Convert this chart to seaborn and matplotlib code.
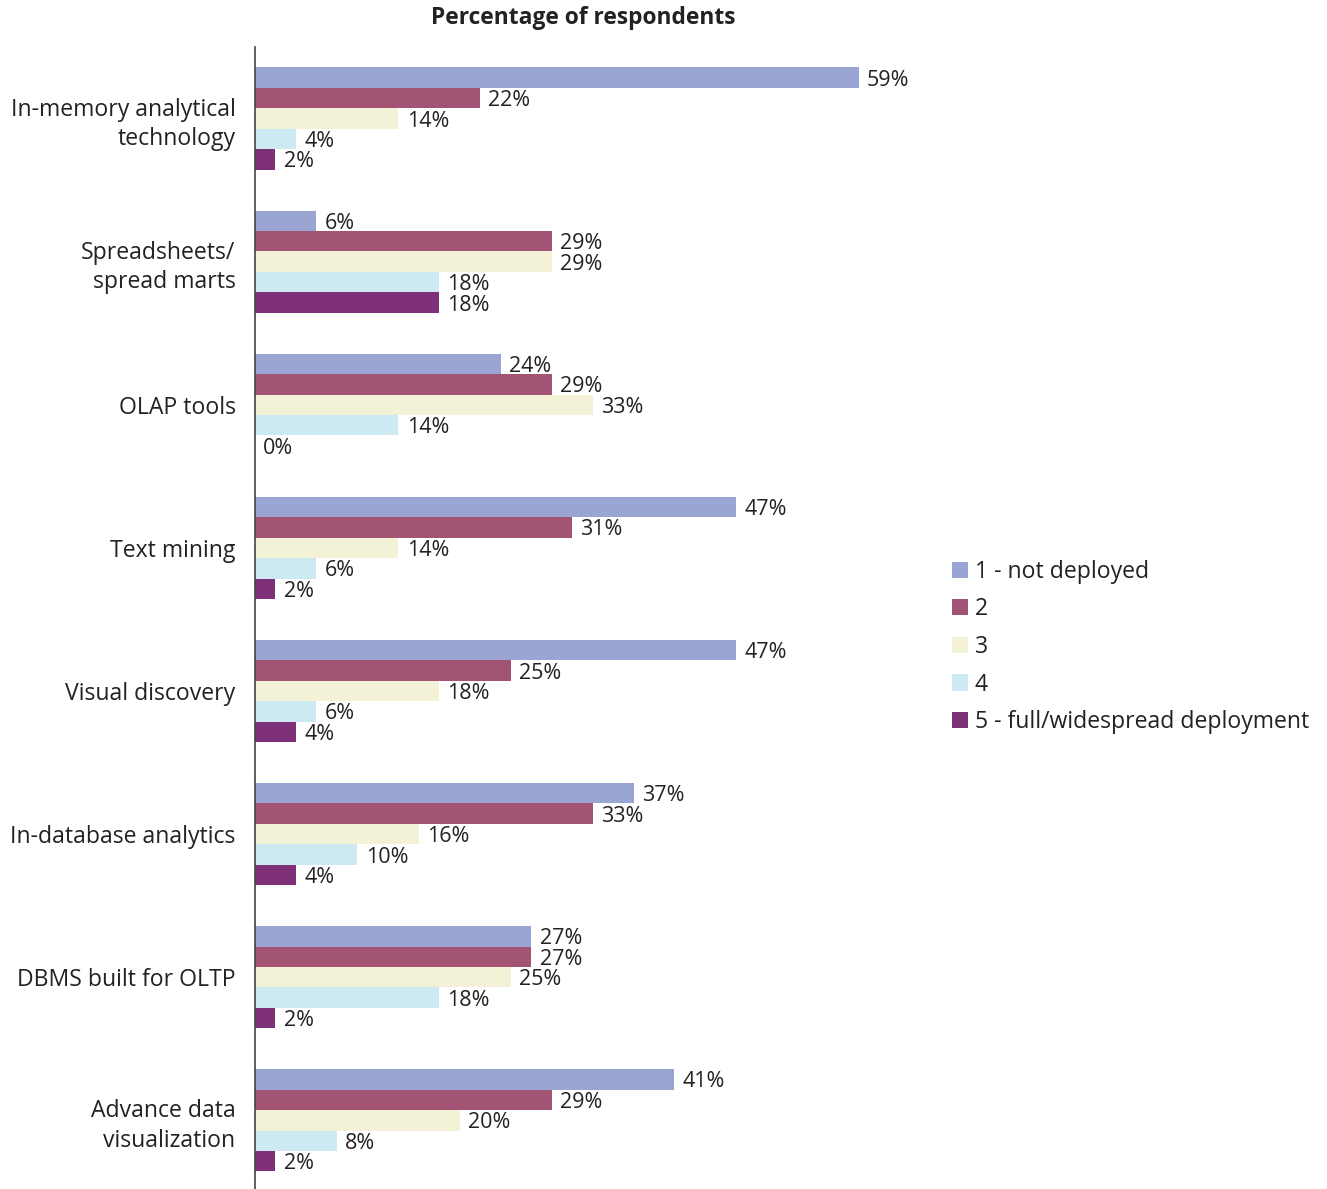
import matplotlib
matplotlib.use("Agg")
import matplotlib.pyplot as plt
import seaborn as sns
import pandas as pd

categories = [
    "In-memory analytical\ntechnology",
    "Spreadsheets/\nspread marts",
    "OLAP tools",
    "Text mining",
    "Visual discovery",
    "In-database analytics",
    "DBMS built for OLTP",
    "Advance data\nvisualization",
]
levels = ["1 - not deployed", "2", "3", "4", "5 - full/widespread deployment"]
level1 = [59, 6, 24, 47, 47, 37, 27, 41]
level2 = [22, 29, 29, 31, 25, 33, 27, 29]
level3 = [14, 29, 33, 14, 18, 16, 25, 20]
level4 = [4, 18, 14, 6, 6, 10, 18, 8]
level5 = [2, 18, 0, 2, 4, 4, 2, 2]
colors = ["#9ba5d4", "#a35475", "#f3f2d6", "#cdeaf2", "#7e3078"]

rows = []
for lvl, vals in zip(levels, [level1, level2, level3, level4, level5]):
    for cat, v in zip(categories, vals):
        rows.append({"category": cat, "level": lvl, "pct": v})
df = pd.DataFrame(rows)

sns.set_theme(style="white")
plt.rcParams["font.family"] = ["Open Sans", "DejaVu Sans"]

W, H = 1327, 1189
fig = plt.figure(figsize=(W / 100, H / 100), dpi=100)
ax = fig.add_axes([255 / W, 0.0, 665 / W, (H - 47) / H])

sns.barplot(data=df, y="category", x="pct", hue="level", order=categories,
            hue_order=levels, palette=colors, width=0.714, saturation=1,
            orient="h", ax=ax, legend=True, linewidth=0)

for container in ax.containers:
    labels_ = ax.bar_label(container, fmt="%g%%", padding=6, fontsize=15.5,
                           color="#222222")
    for t in labels_:
        t.set_va("center_baseline")

ax.set_xlim(0, 65)
ax.set_ylim(7.48, -0.50)
ax.set_xlabel("")
ax.set_ylabel("")
ax.set_xticks([])
for side in ["top", "right", "bottom"]:
    ax.spines[side].set_visible(False)
ax.spines["left"].set_color("#444444")
ax.spines["left"].set_linewidth(1.2)
ax.tick_params(axis="y", length=0, pad=14, labelsize=16.6, labelcolor="#222222")
for lab in ax.get_yticklabels():
    lab.set_horizontalalignment("right")
    lab.set_multialignment("right")
    lab.set_linespacing(1.3)

fig.text(583 / W, 1 - 18 / H, "Percentage of respondents", ha="center", va="center",
         fontsize=16.4, fontweight="bold", color="#222222")

handles, labels = ax.get_legend_handles_labels()
ax.legend_.remove()
fig.legend(handles, labels, loc="center left", bbox_to_anchor=(931 / W, 1 - 647 / H),
           frameon=False, fontsize=16.6, handlelength=0.7, handleheight=0.7,
           handletextpad=0.3, labelspacing=0.59, labelcolor="#222222")

fig.savefig("out.png", dpi=100)
